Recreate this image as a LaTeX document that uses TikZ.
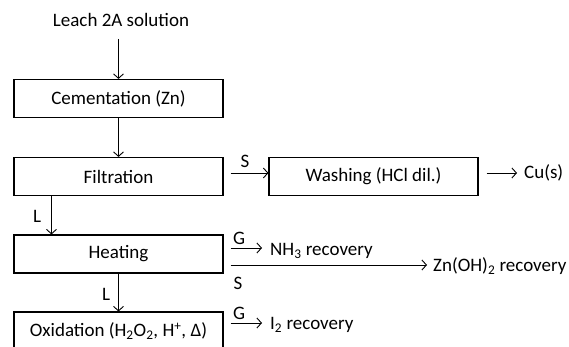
\documentclass[tikz,border=0pt]{standalone}
\usepackage{fontspec}
\setmainfont{Carlito}
\usetikzlibrary{arrows.meta}
\begin{document}
\begin{tikzpicture}[x=1pt,y=-1pt,
  font=\fontsize{19}{22}\selectfont,
  procbox/.style={draw,line width=1.1pt,minimum width=209pt,minimum height=38pt,inner sep=0pt},
  washbox/.style={draw,line width=1.1pt,minimum width=209pt,minimum height=38pt,inner sep=0pt},
  lbl/.style={inner sep=0pt},
  txt/.style={inner sep=0pt},
  flow/.style={-{Straight Barb[length=4.5pt,width=10pt]},line width=0.9pt}]
\clip (0,0) rectangle (569,347);
\node[txt] (leach) at (121,20) {Leach 2A solution};
\node[procbox] (cem) at (118.5,98.5) {Cementation (Zn)};
\node[procbox] (filt) at (118.5,176.5) {Filtration};
\node[washbox] (wash) at (373.5,176.5) {Washing (HCl dil.)};
\node[txt,anchor=west] (cu) at (524,173) {Cu(s)};
\node[procbox] (heat) at (118.5,254) {Heating};
\node[txt,anchor=west] (nh3) at (270,251) {NH\textsubscript{3} recovery};
\node[txt,anchor=west] (zn) at (433,266.5) {Zn(OH)\textsubscript{2} recovery};
\node[procbox] (ox) at (118.5,331) {Oxidation (H\textsubscript{2}O\textsubscript{2}, H\textsuperscript{+}, Δ)};
\node[txt,anchor=west] (i2) at (270,325) {I\textsubscript{2} recovery};
% labels
\node[lbl] (s1) at (245,161) {S};
\node[lbl] (l1) at (37,216) {L};
\node[lbl] (g1) at (239,238) {G};
\node[lbl] (s2) at (238,283) {S};
\node[lbl] (l2) at (106,294) {L};
\node[lbl] (g2) at (239,313) {G};
% connectors
\draw[flow] ([yshift=-12pt]leach.south -| cem.north) -- (cem.north);
\draw[flow] (cem.south) -- (filt.north);
\draw[flow,shorten <=7pt] ([yshift=3.5pt]filt.east) -- ([yshift=3.5pt]wash.west);
\draw[flow,shorten <=8pt,shorten >=7pt] ([yshift=3.5pt]wash.east) -- (cu.west |- 0,173);
\draw[flow] ([xshift=38pt]filt.south west) -- ([xshift=38pt]heat.north west);
\draw[flow,shorten <=7pt,shorten >=8pt] ([yshift=6pt]heat.east) -- (nh3.west |- 0,248);
\draw[flow,shorten <=7pt,shorten >=6pt] ([yshift=-11pt]heat.east) -- (zn.west |- 0,265);
\draw[flow] (heat.south) -- (ox.north);
\draw[flow,shorten <=7pt,shorten >=8pt] ([yshift=8pt]ox.east) -- (i2.west |- 0,323);
\end{tikzpicture}
\end{document}
